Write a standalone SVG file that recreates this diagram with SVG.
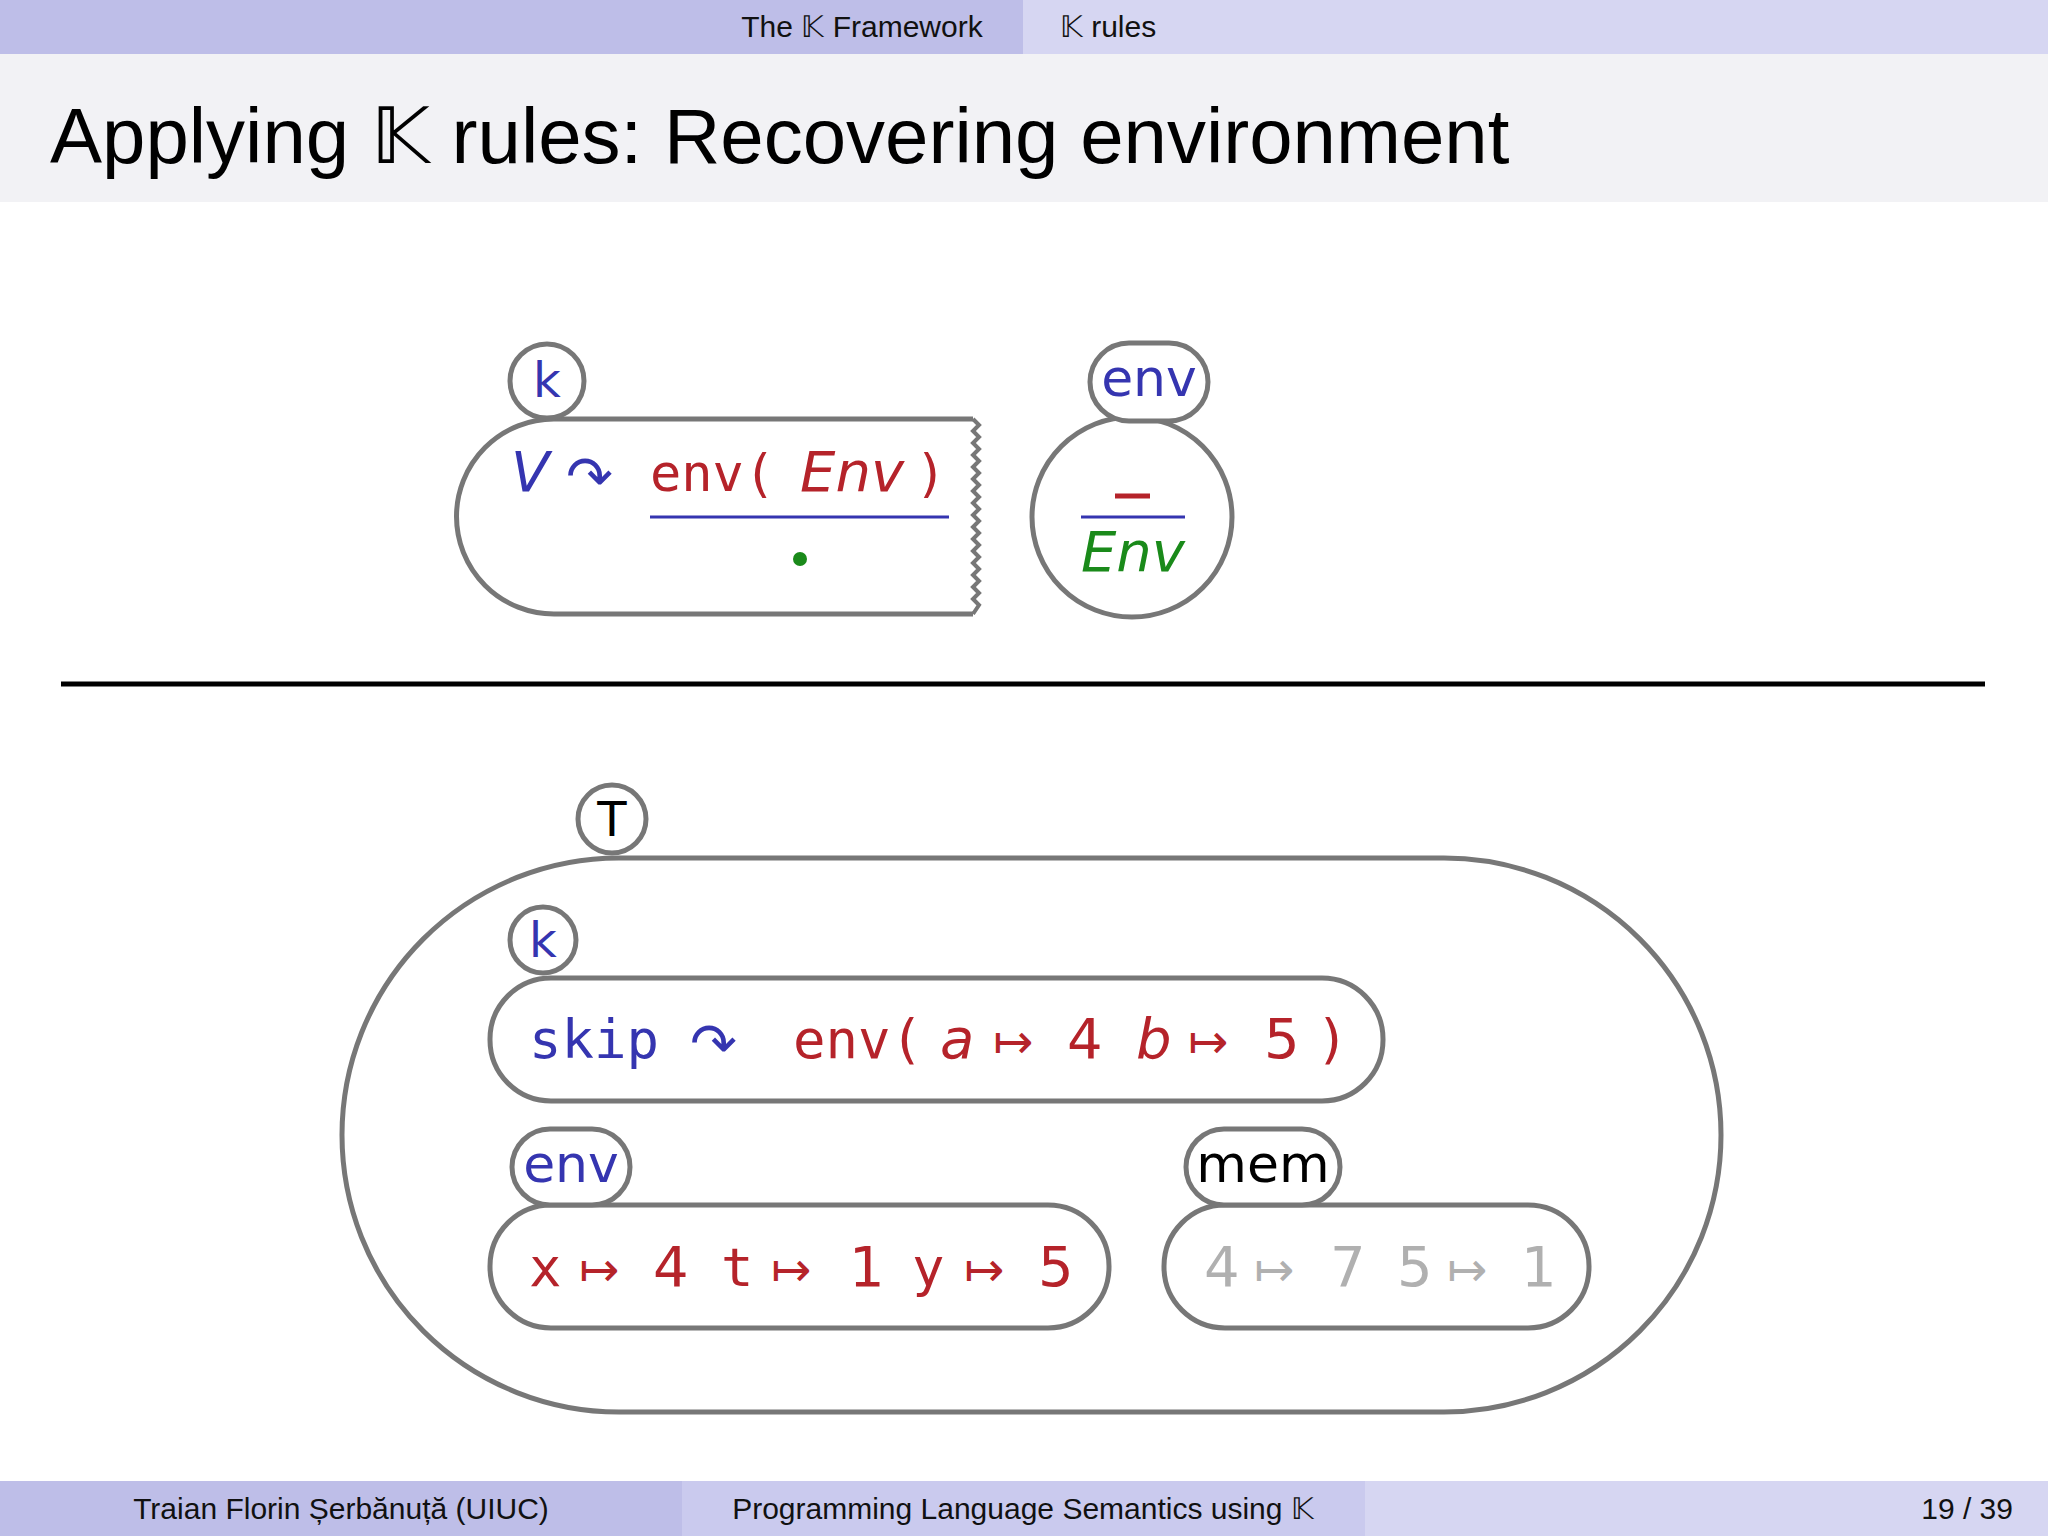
<svg xmlns="http://www.w3.org/2000/svg" width="2048" height="1536" viewBox="0 0 2048 1536">
<style>
.cell{fill:none;stroke:#777;stroke-width:5}
.bub{fill:#fff;stroke:#777;stroke-width:5}
.s{font-family:"DejaVu Sans","Liberation Sans",sans-serif}
.m{font-family:"DejaVu Sans Mono","Liberation Mono",monospace}
.i{font-style:italic}
.bl{fill:#3535b0}.rd{fill:#b5232a}.gr{fill:#1a8a1a}.gy{fill:#b0b0b0}
.hd{font-family:"Liberation Sans",sans-serif;font-size:30px;fill:#111}
</style>
<rect width="2048" height="1536" fill="#fff"/>
<rect x="0" y="0" width="1023" height="54" fill="#bebee8"/>
<rect x="1023" y="0" width="1025" height="54" fill="#d6d6f2"/>
<text class="hd" x="862" y="37" text-anchor="middle">The 𝕂 Framework</text>
<text class="hd" x="1108" y="37" text-anchor="middle">𝕂 rules</text>
<rect x="0" y="54" width="2048" height="148" fill="#f2f2f5"/>
<text x="50" y="163" font-family="Liberation Sans,sans-serif" font-size="78" fill="#000">Applying 𝕂 rules: Recovering environment</text>
<rect x="0" y="1481" width="682" height="55" fill="#bebee8"/>
<rect x="682" y="1481" width="683" height="55" fill="#cacaee"/>
<rect x="1365" y="1481" width="683" height="55" fill="#d6d6f2"/>
<text class="hd" x="341" y="1519" text-anchor="middle">Traian Florin Șerbănuță  (UIUC)</text>
<text class="hd" x="1023" y="1519" text-anchor="middle">Programming Language Semantics using 𝕂</text>
<text class="hd" x="2013" y="1519" text-anchor="end">19 / 39</text>

<g id="rule-k">
<path class="cell" d="M973,419 H554 A97,97 0 0 0 554,614 H973"/>
<path d="M973,419 l6,6 -6,6 6,6 -6,6 6,6 -6,6 6,6 -6,6 6,6 -6,6 6,6 -6,6 6,6 -6,6 6,6 -6,6 6,6 -6,6 6,6 -6,6 6,6 -6,6 6,6 -6,6 6,6 -6,6 6,6 -6,6 6,6 -6,6 6,6 -6,9" fill="none" stroke="#777" stroke-width="4"/>
<circle class="bub" cx="547" cy="381" r="37"/>
<text class="s bl" x="547" y="397" font-size="48" text-anchor="middle">k</text>
<text class="s i bl" x="511" y="491" font-size="56">V</text>
<text class="s bl" x="566" y="496" font-size="56">↷</text>
<text class="m rd" x="650" y="491" font-size="52">env(</text>
<text class="s i rd" x="800" y="491" font-size="56">Env</text>
<text class="m rd" x="915" y="491" font-size="52">)</text>
<line x1="650" y1="517" x2="949" y2="517" stroke="#3535b0" stroke-width="3"/>
<circle cx="800" cy="559" r="7" fill="#1a8a1a"/>
</g>
<g id="rule-env">
<circle class="cell" cx="1132" cy="517" r="100"/>
<rect class="bub" x="1090" y="343" width="118" height="78" rx="39"/>
<text class="s bl" x="1149" y="396" font-size="52" text-anchor="middle">env</text>
<line x1="1115" y1="496" x2="1150" y2="496" stroke="#b5232a" stroke-width="5"/>
<line x1="1081" y1="517" x2="1185" y2="517" stroke="#3535b0" stroke-width="3"/>
<text class="s i gr" x="1133" y="571" font-size="56" text-anchor="middle">Env</text>
</g>
<line x1="61" y1="684" x2="1985" y2="684" stroke="#000" stroke-width="5"/>

<g id="T">
<rect class="cell" x="342" y="858" width="1379" height="554" rx="277"/>
<circle class="bub" cx="612" cy="819" r="34"/>
<text class="s" x="612" y="836" font-size="48" text-anchor="middle" fill="#000">T</text>
</g>
<g id="k">
<rect class="cell" x="490" y="978" width="893" height="123" rx="61"/>
<circle class="bub" cx="543" cy="940" r="33"/>
<text class="s bl" x="543" y="957" font-size="48" text-anchor="middle">k</text>
<text class="m bl" x="529" y="1058" font-size="54">skip</text>
<text class="s bl" x="690" y="1063" font-size="56">↷</text>
<text class="m rd" x="793" y="1058" font-size="54">env(</text>
<text class="s i rd" x="940" y="1058" font-size="56">a</text>
<text class="s rd" x="993" y="1058" font-size="48">↦</text>
<text class="s rd" x="1067" y="1058" font-size="56">4</text>
<text class="s i rd" x="1136" y="1058" font-size="56">b</text>
<text class="s rd" x="1188" y="1058" font-size="48">↦</text>
<text class="s rd" x="1264" y="1058" font-size="56">5</text>
<text class="m rd" x="1316" y="1058" font-size="54">)</text>
</g>
<g id="env">
<rect class="cell" x="490" y="1205" width="619" height="123" rx="61"/>
<rect class="bub" x="512" y="1129" width="118" height="76" rx="38"/>
<text class="s bl" x="571" y="1182" font-size="52" text-anchor="middle">env</text>
<text class="m rd" x="529" y="1286" font-size="54">x</text>
<text class="s rd" x="579" y="1286" font-size="48">↦</text>
<text class="s rd" x="653" y="1286" font-size="56">4</text>
<text class="m rd" x="721" y="1286" font-size="54">t</text>
<text class="s rd" x="771" y="1286" font-size="48">↦</text>
<text class="s rd" x="849" y="1286" font-size="56">1</text>
<text class="m rd" x="912" y="1286" font-size="54">y</text>
<text class="s rd" x="964" y="1286" font-size="48">↦</text>
<text class="s rd" x="1038" y="1286" font-size="56">5</text>
</g>
<g id="mem">
<rect class="cell" x="1164" y="1205" width="425" height="123" rx="61"/>
<rect class="bub" x="1186" y="1129" width="154" height="76" rx="38"/>
<text class="s" x="1263" y="1182" font-size="52" text-anchor="middle" fill="#000">mem</text>
<text class="s gy" x="1204" y="1286" font-size="56">4</text>
<text class="s gy" x="1254" y="1286" font-size="48">↦</text>
<text class="s gy" x="1330" y="1286" font-size="56">7</text>
<text class="s gy" x="1397" y="1286" font-size="56">5</text>
<text class="s gy" x="1447" y="1286" font-size="48">↦</text>
<text class="s gy" x="1521" y="1286" font-size="56">1</text>
</g>
<g id="connectors"/>
</svg>
